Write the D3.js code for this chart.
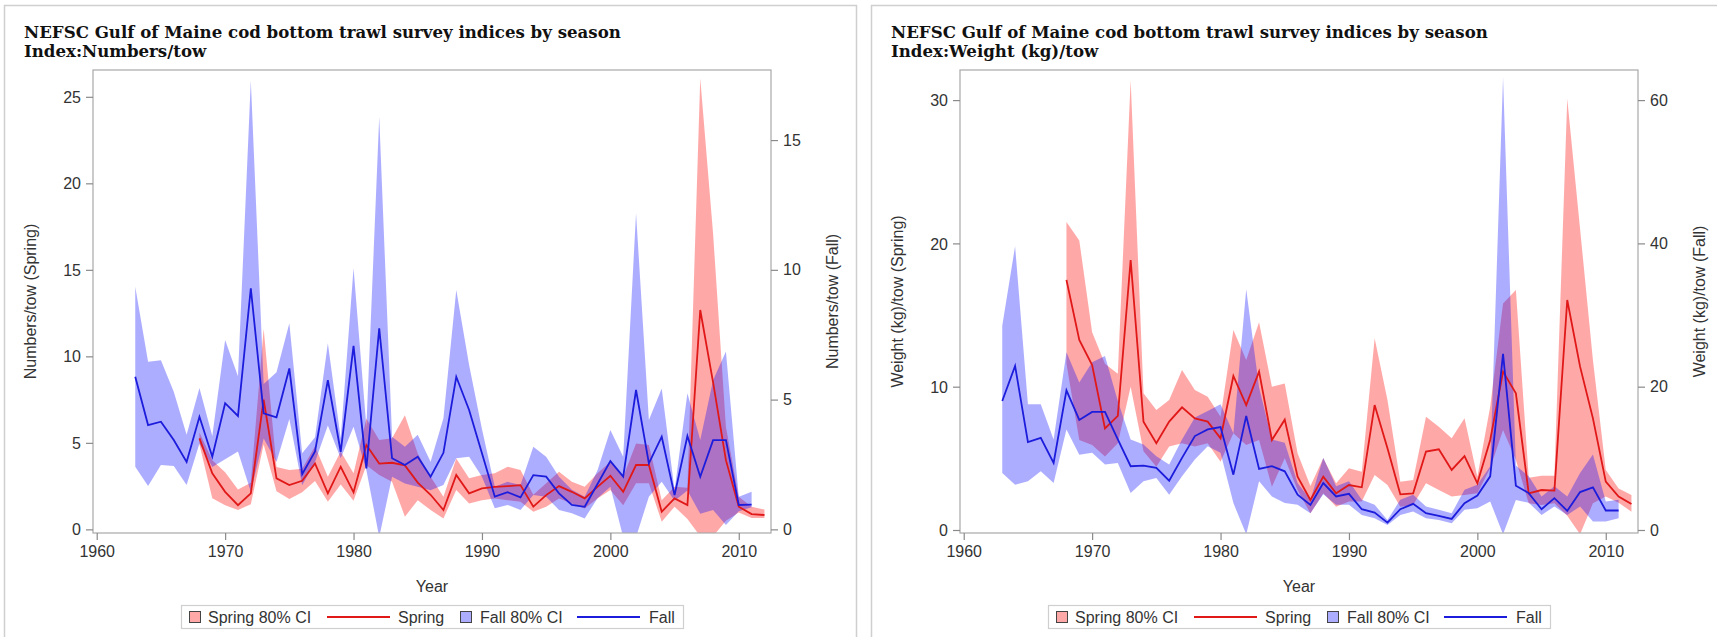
<!DOCTYPE html>
<html><head><meta charset="utf-8">
<script src="https://cdn.jsdelivr.net/npm/d3@7/dist/d3.min.js"></script>
<style>body{margin:0;background:#fff} svg{display:block}</style>
</head><body>
<svg id="chart" width="1717" height="637"></svg>
<script>
// ---------------- DATA ----------------
const titleMain = "NEFSC Gulf of Maine cod bottom trawl survey indices by season";
const xTicks = [1960, 1970, 1980, 1990, 2000, 2010];
const legendLabels = ["Spring 80% CI", "Spring", "Fall 80% CI", "Fall"];

const yearsSpring = [1968,1969,1970,1971,1972,1973,1974,1975,1976,1977,1978,1979,1980,1981,1982,1983,1984,1985,1986,1987,1988,1989,1990,1991,1992,1993,1994,1995,1996,1997,1998,1999,2000,2001,2002,2003,2004,2005,2006,2007,2008,2009,2010,2011,2012];
const yearsFall = [1963,1964,1965,1966,1967,1968,1969,1970,1971,1972,1973,1974,1975,1976,1977,1978,1979,1980,1981,1982,1983,1984,1985,1986,1987,1988,1989,1990,1991,1992,1993,1994,1995,1996,1997,1998,1999,2000,2001,2002,2003,2004,2005,2006,2007,2008,2009,2010,2011];

// Panel 1: Numbers/tow
const numTitle2 = "Index:Numbers/tow";
const numYLabelSpring = "Numbers/tow (Spring)";
const numYLabelFall = "Numbers/tow (Fall)";
const numSpringTicks = [0, 5, 10, 15, 20, 25];
const numFallTicks = [0, 5, 10, 15];
const numSpring = [5.26,3.24,2.17,1.4,2.08,7.5,2.95,2.56,2.81,3.81,2.08,3.62,2.14,4.87,3.8,3.85,3.7,2.7,2.0,1.12,3.14,2.08,2.37,2.45,2.5,2.56,1.31,1.98,2.5,2.17,1.79,2.46,3.1,2.17,3.72,3.72,1.02,1.79,1.4,12.68,8.5,4.0,1.31,0.88,0.83];
const numSpringHi = [5.6,4.0,3.3,2.3,2.7,11.6,3.6,3.43,3.5,4.8,3.04,4.5,3.24,6.41,5.16,5.26,6.6,4.39,3.04,1.88,4.1,2.95,3.14,3.24,3.62,3.43,2.0,2.66,3.33,2.75,2.46,3.24,3.91,3.04,4.97,4.87,1.69,2.46,2.4,26.07,17.1,5.93,1.88,1.3,1.15];
const numSpringLo = [4.9,1.8,1.4,1.12,1.45,4.9,2.2,1.75,2.15,2.8,1.6,2.6,1.65,3.7,3.14,2.75,0.73,1.69,1.12,0.63,2.27,1.5,1.69,1.79,1.69,1.6,1.02,1.31,1.79,1.5,1.21,1.79,2.27,1.4,2.66,2.66,0.44,1.31,0.6,-0.4,-0.4,0.5,0.98,0.65,0.65];
const numFall = [5.88,4.02,4.15,3.44,2.6,4.34,2.8,4.86,4.37,9.29,4.47,4.32,6.2,2.13,3.0,5.75,2.99,7.07,2.35,7.75,2.74,2.48,2.8,2.03,2.95,5.88,4.6,2.93,1.26,1.43,1.23,2.09,2.03,1.39,0.94,0.87,1.75,2.63,2.03,5.37,2.54,3.57,1.32,3.6,2.03,3.44,3.44,0.94,0.95];
const numFallHi = [9.35,6.46,6.52,5.3,3.65,5.45,3.6,7.3,5.9,17.3,5.6,6.05,7.94,2.93,3.55,7.17,3.51,10.06,3.95,15.9,3.57,3.18,3.65,2.61,4.28,9.22,6.33,3.87,1.64,1.83,1.71,3.18,2.8,2.03,1.53,1.26,2.28,3.83,2.8,12.18,4.21,5.43,1.51,5.24,3.44,5.75,6.85,1.26,1.45];
const numFallLo = [2.41,1.67,2.48,2.44,1.71,3.31,2.4,2.7,3.0,1.45,3.5,2.6,4.25,1.7,2.6,4.0,2.74,3.95,2.28,-0.3,2.03,1.77,1.64,1.51,1.71,2.74,2.8,2.03,0.81,0.94,0.75,1.32,1.26,0.75,0.62,0.42,1.2,1.64,-0.3,-0.3,1.26,1.83,1.1,1.5,0.6,0.75,0.17,0.7,0.85];

// Panel 2: Weight (kg)/tow
const wtTitle2 = "Index:Weight (kg)/tow";
const wtYLabelSpring = "Weight (kg)/tow (Spring)";
const wtYLabelFall = "Weight (kg)/tow (Fall)";
const wtSpringTicks = [0, 10, 20, 30];
const wtFallTicks = [0, 20, 40, 60];
const wtSpring = [17.45,13.26,11.51,7.09,7.96,18.84,7.56,6.05,7.56,8.56,7.79,7.56,6.4,10.75,8.72,11.05,6.28,7.7,3.72,2.09,3.72,2.56,3.14,2.98,8.72,5.7,2.49,2.56,5.47,5.63,4.19,5.16,3.26,6.28,11.05,9.54,2.56,2.79,2.75,16.05,11.4,7.79,3.37,2.33,1.81];
const wtSpringHi = [21.5,20.2,13.8,11.6,10.9,31.4,9.54,8.37,9.07,11.16,9.77,9.3,7.91,13.96,11.86,14.5,10.0,10.23,5.35,3.07,5.0,3.26,4.3,4.07,13.38,9.07,3.37,3.49,7.91,7.21,6.4,7.79,3.72,8.6,15.8,16.75,3.65,3.79,3.79,30.1,21.0,11.86,4.19,2.9,2.44];
const wtSpringLo = [11.6,6.28,5.93,5.12,6.05,10.0,5.5,4.42,5.82,6.05,5.82,6.05,4.77,6.75,5.93,6.28,3.02,5.0,2.79,1.16,2.56,1.63,1.98,1.98,3.84,3.14,1.63,1.74,3.26,2.79,2.33,2.44,2.56,4.3,6.98,4.88,1.86,1.74,1.86,1.0,-0.3,1.86,2.33,1.9,1.28];
const wtFall = [18.0,22.9,12.27,12.87,9.36,19.5,15.36,16.48,16.48,12.64,8.9,8.99,8.66,6.88,10.07,13.11,14.04,14.37,7.72,15.92,8.52,8.9,8.19,4.92,3.51,6.55,4.68,5.05,2.9,2.43,1.03,2.9,3.65,2.34,1.97,1.55,3.75,4.82,7.49,24.58,6.18,5.15,2.9,4.45,2.67,5.29,5.94,2.72,2.72];
const wtFallHi = [28.5,39.6,17.56,17.56,12.64,24.8,20.6,23.4,24.3,18.0,12.64,11.94,10.3,9.13,12.64,15.69,16.62,17.56,13.5,33.6,19.9,12.64,12.17,6.55,4.21,10.07,6.09,6.79,4.21,3.51,1.4,4.21,4.92,3.28,2.81,2.34,5.62,6.32,8.9,63.2,9.0,7.49,4.68,6.09,4.68,7.96,10.53,3.98,4.21];
const wtFallLo = [7.96,6.32,6.79,8.19,6.55,14.04,10.5,10.77,9.13,9.36,5.15,6.79,7.25,4.92,7.49,9.83,11.7,10.77,3.75,-0.6,6.79,4.68,3.75,3.51,2.34,5.0,3.51,3.51,2.1,1.64,0.7,2.1,2.57,1.64,1.4,0.94,2.81,3.04,3.98,-0.6,4.2,3.8,2.1,3.28,2.1,3.28,1.17,1.17,1.64];

// ---------------- DRAW ----------------
const svg = d3.select("#chart");
const RED = "#e01818", BLUE = "#1c1cdc";
const SANS = "'Liberation Sans', Arial, sans-serif";
const SERIF = "'DejaVu Serif', serif";

// title font sizing
const probe = svg.append("text").attr("font-family", SERIF).attr("font-weight", "bold")
  .attr("font-size", 16).text(titleMain);
const w16 = probe.node().getComputedTextLength();
probe.remove();
const titleSize = 16 * 597 / w16;

function zip(years, v, lo, hi) {
  return years.map((yr, i) => ({yr, v: v[i], lo: lo[i], hi: hi[i]}));
}

function drawPanel(ox, cfg, idx) {
  const g = svg.append("g").attr("transform", `translate(${ox},0)`);
  // panel border
  g.append("rect").attr("x", 4.5).attr("y", 5.5).attr("width", 852).attr("height", 640)
    .attr("fill", "none").attr("stroke", "#cfcfcf").attr("stroke-width", 1.5);
  // titles
  g.append("text").attr("x", 24).attr("y", 38).attr("font-family", SERIF).attr("font-weight", "bold")
    .attr("font-size", titleSize).attr("fill", "#111").text(titleMain);
  g.append("text").attr("x", 24).attr("y", 57).attr("font-family", SERIF).attr("font-weight", "bold")
    .attr("font-size", titleSize).attr("fill", "#111").text(cfg.title2);

  const X0 = 93, X1 = 771, Y0 = 70, Y1 = 533;
  const x = d3.scaleLinear().domain([1959.71, 2012.51]).range([X0, X1]);
  const yS = d3.scaleLinear().domain(cfg.springDomain).range([Y1, Y0]);
  const yF = d3.scaleLinear().domain(cfg.fallDomain).range([Y1, Y0]);

  const clipId = "clip" + idx;
  g.append("clipPath").attr("id", clipId).append("rect")
    .attr("x", X0).attr("y", Y0).attr("width", X1 - X0).attr("height", Y1 - Y0);

  const plot = g.append("g").attr("clip-path", `url(#${clipId})`);
  const sData = zip(yearsSpring, cfg.spring, cfg.springLo, cfg.springHi);
  const fData = zip(yearsFall, cfg.fall, cfg.fallLo, cfg.fallHi);

  plot.append("path").datum(sData)
    .attr("d", d3.area().x(d => x(d.yr)).y0(d => yS(d.lo)).y1(d => yS(d.hi)))
    .attr("fill", "#ff0000").attr("fill-opacity", 0.34);
  plot.append("path").datum(fData)
    .attr("d", d3.area().x(d => x(d.yr)).y0(d => yF(d.lo)).y1(d => yF(d.hi)))
    .attr("fill", "#0000ff").attr("fill-opacity", 0.32);
  plot.append("path").datum(sData)
    .attr("d", d3.line().x(d => x(d.yr)).y(d => yS(d.v)))
    .attr("fill", "none").attr("stroke", RED).attr("stroke-width", 1.8);
  plot.append("path").datum(fData)
    .attr("d", d3.line().x(d => x(d.yr)).y(d => yF(d.v)))
    .attr("fill", "none").attr("stroke", BLUE).attr("stroke-width", 1.8);

  // frame
  g.append("rect").attr("x", X0).attr("y", Y0).attr("width", X1 - X0).attr("height", Y1 - Y0)
    .attr("fill", "none").attr("stroke", "#a8a8a8").attr("stroke-width", 1.2);

  function styleAxis(sel) {
    sel.selectAll(".domain").remove();
    sel.selectAll(".tick line").attr("stroke", "#8a8a8a").attr("stroke-width", 1.2);
    sel.selectAll(".tick text").attr("fill", "#333").attr("font-family", SANS).attr("font-size", 16);
  }
  // axes
  const ax = g.append("g").attr("transform", `translate(0,${Y1})`)
    .call(d3.axisBottom(x).tickValues(xTicks).tickFormat(d3.format("d")).tickSize(7).tickPadding(6));
  styleAxis(ax);
  const ayl = g.append("g").attr("transform", `translate(${X0},0)`)
    .call(d3.axisLeft(yS).tickValues(cfg.springTicks).tickSize(7).tickPadding(5));
  styleAxis(ayl);
  ayl.selectAll(".tick text").attr("dy", "0.35em");
  const ayr = g.append("g").attr("transform", `translate(${X1},0)`)
    .call(d3.axisRight(yF).tickValues(cfg.fallTicks).tickSize(7).tickPadding(5));
  styleAxis(ayr);

  // axis labels
  const midY = (Y0 + Y1) / 2;
  g.append("text").attr("transform", `translate(36,${midY}) rotate(-90)`).attr("text-anchor", "middle")
    .attr("font-family", SANS).attr("font-size", 16).attr("fill", "#333").text(cfg.yLabelSpring);
  g.append("text").attr("transform", `translate(838,${midY}) rotate(-90)`).attr("text-anchor", "middle")
    .attr("font-family", SANS).attr("font-size", 16).attr("fill", "#333").text(cfg.yLabelFall);
  g.append("text").attr("x", (X0 + X1) / 2).attr("y", 592).attr("text-anchor", "middle")
    .attr("font-family", SANS).attr("font-size", 16).attr("fill", "#333").text("Year");

  // legend
  const lg = g.append("g");
  lg.append("rect").attr("x", 181.5).attr("y", 605.5).attr("width", 502).attr("height", 23)
    .attr("fill", "#fff").attr("stroke", "#cfcfcf").attr("stroke-width", 1.2);
  const ty = 623;
  // Spring CI swatch
  lg.append("rect").attr("x", 189.5).attr("y", 611.5).attr("width", 11).attr("height", 11)
    .attr("fill", "#ffa8a8").attr("stroke", "#444");
  lg.append("text").attr("x", 208).attr("y", ty).attr("font-family", SANS).attr("font-size", 16)
    .attr("fill", "#333").text(legendLabels[0]);
  lg.append("line").attr("x1", 327).attr("x2", 390).attr("y1", 617).attr("y2", 617)
    .attr("stroke", RED).attr("stroke-width", 1.8);
  lg.append("text").attr("x", 398).attr("y", ty).attr("font-family", SANS).attr("font-size", 16)
    .attr("fill", "#333").text(legendLabels[1]);
  lg.append("rect").attr("x", 460.5).attr("y", 611.5).attr("width", 11).attr("height", 11)
    .attr("fill", "#adadff").attr("stroke", "#444");
  lg.append("text").attr("x", 480).attr("y", ty).attr("font-family", SANS).attr("font-size", 16)
    .attr("fill", "#333").text(legendLabels[2]);
  lg.append("line").attr("x1", 577).attr("x2", 640).attr("y1", 617).attr("y2", 617)
    .attr("stroke", BLUE).attr("stroke-width", 1.8);
  lg.append("text").attr("x", 649).attr("y", ty).attr("font-family", SANS).attr("font-size", 16)
    .attr("fill", "#333").text(legendLabels[3]);
}

drawPanel(0, {
  title2: numTitle2, yLabelSpring: numYLabelSpring, yLabelFall: numYLabelFall,
  springTicks: numSpringTicks, fallTicks: numFallTicks,
  springDomain: [-0.21, 26.55], fallDomain: [-0.14, 17.7],
  spring: numSpring, springLo: numSpringLo, springHi: numSpringHi,
  fall: numFall, fallLo: numFallLo, fallHi: numFallHi
}, 0);

drawPanel(867, {
  title2: wtTitle2, yLabelSpring: wtYLabelSpring, yLabelFall: wtYLabelFall,
  springTicks: wtSpringTicks, fallTicks: wtFallTicks,
  springDomain: [-0.21, 32.1], fallDomain: [-0.42, 64.2],
  spring: wtSpring, springLo: wtSpringLo, springHi: wtSpringHi,
  fall: wtFall, fallLo: wtFallLo, fallHi: wtFallHi
}, 1);
</script>
</body></html>
